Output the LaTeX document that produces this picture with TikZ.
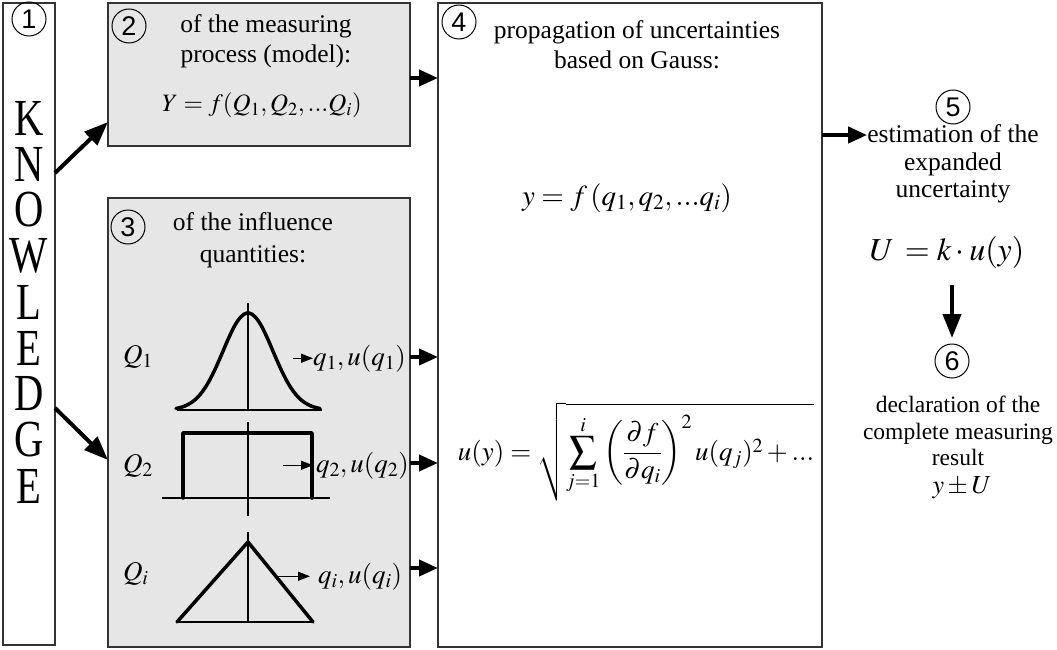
\documentclass[tikz,border=0pt]{standalone}
\usepackage{mathptmx}
\usepackage{fontspec}
\setmainfont{Liberation Serif}
\setsansfont{Liberation Sans}
\usetikzlibrary{arrows.meta,calc}
\definecolor{panelgray}{RGB}{230,230,230}
\tikzset{
  panel/.style={draw=black!80, line width=1.3pt, inner sep=0pt, outer sep=0pt, anchor=north west},
  digit/.style={circle, draw, line width=1pt, minimum size=34pt, inner sep=0pt, font=\sffamily\fontsize{27}{27}\selectfont},
  letter/.style={inner sep=0pt, font=\fontsize{52}{52}\selectfont},
  txt/.style={align=center, inner sep=0pt, anchor=north, font=\fontsize{25.5}{30}\selectfont},
  eq/.style={inner sep=0pt, outer sep=0pt, font=\fontsize{27}{30}\selectfont},
  flow/.style={-{Triangle[length=19pt,width=16pt]}, line width=4pt},
  bigflow/.style={-{Triangle[length=24pt,width=18pt]}, line width=4pt},
  tip/.style={-{Triangle[length=12pt,width=9pt]}, line width=1.5pt},
  curve/.style={line width=3.5pt, line cap=round, line join=round},
  thinline/.style={line width=1.2pt}
}
\begin{document}
\begin{tikzpicture}[x=1pt,y=-1pt]
  \useasboundingbox (0,0) rectangle (1057,650);
  % boxes
  \node[panel, minimum width=52pt, minimum height=642pt] (know) at (3,3) {};
  \node[panel, fill=panelgray, minimum width=302pt, minimum height=143pt] (model) at (108,3) {};
  \node[panel, fill=panelgray, minimum width=302pt, minimum height=449pt] (infl) at (108,198) {};
  \node[panel, minimum width=384pt, minimum height=644pt] (prop) at (438,3) {};
  % numbers
  \node[digit] (c1) at (29,19) {1};
  \node[digit] (c2) at (129,26) {2};
  \node[digit] (c3) at (128,227) {3};
  \node[digit] (c4) at (459,22) {4};
  \node[digit] (c5) at (953,107) {5};
  \node[digit] (c6) at (952,361) {6};
  \foreach \l [count=\i] in {K,N,O,W,L,E,D,G,E}
    \node[letter] (k\i) at (29,{118+46*(\i-1)}) {\scalebox{0.78}[1]{\l}};
  % texts
  \node[txt] (t2) at (266,14.6) {of the measuring\\process (model):};
  \node[txt, font=\fontsize{25.5}{32}\selectfont] (t3) at (253,212.6) {of the influence\\quantities:};
  \node[txt] (t4) at (637,20.6) {propagation of uncertainties\\based on Gauss:};
  \node[txt, font=\fontsize{25.5}{27.5}\selectfont] (est) at (953,124.6) {estimation of the\\expanded\\uncertainty};
  \node[txt, font=\fontsize{23.5}{26.5}\selectfont] (decl) at (958,396) {declaration of the\\complete measuring\\result};
  % formulas
  \node[eq, anchor=base, font=\fontsize{25}{30}\selectfont] (fmod) at (262,112) {$Y=f(Q_1,Q_2,...Q_i)$};
  \node[eq, anchor=base, font=\fontsize{29}{30}\selectfont] (fy) at (627,205) {$y = f\,(q_1,q_2,... q_i)$};
  \node[eq, anchor=base] (fu) at (636,460) {$\displaystyle u(y)=\sqrt{\sum_{j=1}^{i}\left(\frac{\partial f}{\partial q_i}\right)^{2}u(q_j)^2+...}$};
  \node[eq, anchor=base, font=\fontsize{32}{34}\selectfont] (fU) at (947,260) {$U\,=k\cdot u(y)$};
  \node[eq, anchor=base, font=\fontsize{26}{30}\selectfont] (fpm) at (962,493) {$y\pm U$};
  % distributions
  \draw[thinline] (177,410) -- (322,410) (248,303) -- (248,410);
  \draw[curve] plot[domain=-72:72, samples=60, smooth] ({248+\x},{410-97*exp(-\x*\x/1250)});
  \draw[thinline] (162,498) -- (330,498) (248,422) -- (248,516);
  \draw[curve] (183,498) -- (183,433) -- (312,433) -- (312,498);
  \draw[thinline] (177,622) -- (313,622) (248,532) -- (248,622);
  \draw[curve] (177,622) -- (248,542) -- (313,622);
  \node[eq, anchor=base west] (Q1) at (123,363) {$Q_1$};
  \node[eq, anchor=base west] (Q2) at (123,472) {$Q_2$};
  \node[eq, anchor=base west] (Qi) at (123,580) {$Q_i$};
  \node[eq, anchor=base west] (ql1) at (313,365) {$q_1,u(q_1)$};
  \node[eq, anchor=base west] (ql2) at (316,472) {$q_2,u(q_2)$};
  \node[eq, anchor=base west] (qli) at (318,583) {$q_i,u(q_i)$};
  \draw[tip] (ql1.west) ++(-20,0) -- (ql1.west);
  \draw[tip, shorten >=3pt] (ql2.west) ++(-33,0) -- (ql2.west);
  \draw[tip, shorten >=8pt] (qli.west) ++(-40,0) -- (qli.west);
  % connectors
  \draw[bigflow] (know.east |- 0,173) -- (model.west |- 0,122);
  \draw[bigflow] (know.east |- 0,408) -- (infl.west |- 0,460);
  \draw[flow] (model.east |- 0,78) -- (prop.west |- 0,78);
  \draw[flow] (infl.east |- 0,357) -- (prop.west |- 0,357);
  \draw[flow] (infl.east |- 0,463) -- (prop.west |- 0,463);
  \draw[flow] (infl.east |- 0,568) -- (prop.west |- 0,568);
  \draw[flow] (prop.east |- 0,135) -- (est.west |- 0,135);
  \draw[bigflow] (c6.north |- 0,285) -- (c6.north |- 0,338);
\end{tikzpicture}
\end{document}
